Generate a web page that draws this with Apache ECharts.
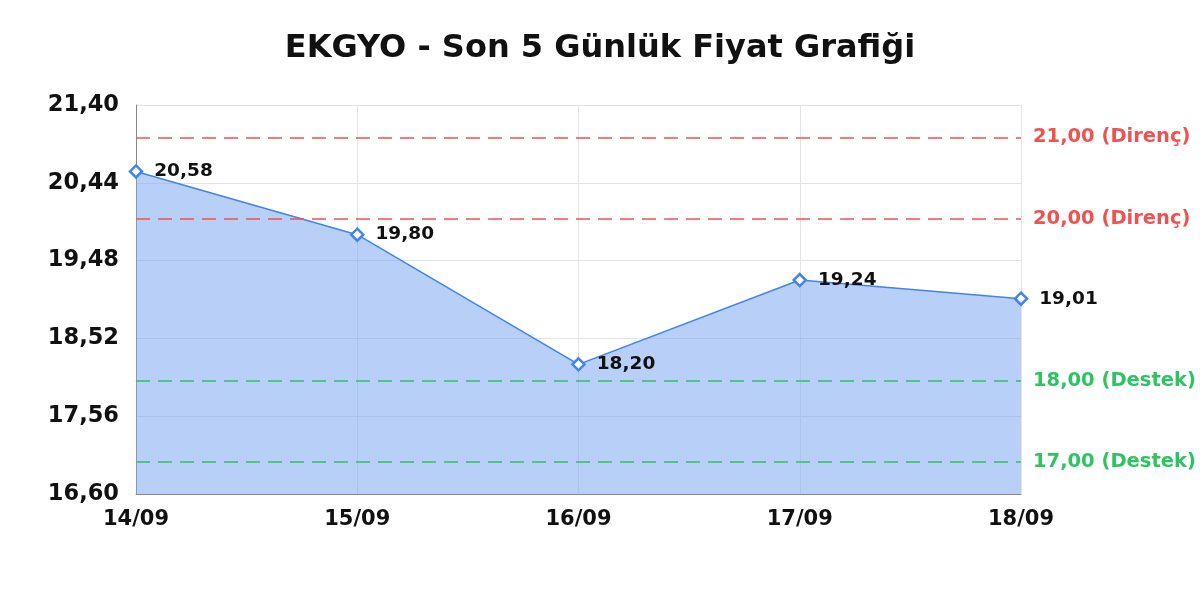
<!DOCTYPE html>
<html><head><meta charset="utf-8">
<script src="https://cdn.jsdelivr.net/npm/echarts@6/dist/echarts.min.js"></script>
<style>html,body{margin:0;padding:0;background:#fff}#c{width:1200px;height:600px}</style>
</head><body><div id="c"></div>
<script>
const categories = ['14/09','15/09','16/09','17/09','18/09'];
const prices = [20.58, 19.80, 18.20, 19.24, 19.01];
const resistance = [21.00, 20.00];
const support = [18.00, 17.00];
const yMin = 16.60, yMax = 21.40, yStep = 0.96;
const fmt = v => v.toFixed(2).replace('.', ',');
const FONT = '"DejaVu Sans", sans-serif';
const chart = echarts.init(document.getElementById('c'));
const lines = [];
resistance.forEach(v => lines.push({yAxis: v, lineStyle:{color:'#f05252', type:[14,8], width:1.5},
  label:{formatter: fmt(v)+' (Direnç)', color:'#f05252'}}));
support.forEach(v => lines.push({yAxis: v, lineStyle:{color:'#2ec462', type:[14,8], width:1.5},
  label:{formatter: fmt(v)+' (Destek)', color:'#2ec462'}}));
chart.setOption({
  animation:false,
  title:{text:'EKGYO - Son 5 Günlük Fiyat Grafiği', left:'center', top:28,
    textStyle:{fontFamily:FONT, fontWeight:'bold', fontSize:32, color:'#111'}},
  grid:{left:136, right:179, top:105, bottom:106},
  xAxis:{type:'category', data:categories, boundaryGap:false,
    axisLine:{lineStyle:{color:'#888'}}, axisTick:{show:false},
    axisLabel:{fontFamily:FONT, fontWeight:'bold', fontSize:21, color:'#111', margin:15},
    splitLine:{show:true, lineStyle:{color:'#e4e4e4'}}},
  yAxis:{type:'value', min:yMin, max:yMax, interval:yStep,
    axisLine:{show:true, lineStyle:{color:'#888'}}, axisTick:{show:false},
    axisLabel:{fontFamily:FONT, fontWeight:'bold', fontSize:22.5, color:'#111', margin:17, formatter:v=>fmt(v)},
    splitLine:{lineStyle:{color:'#e4e4e4'}}},
  series:[{type:'line', data:prices, symbol:'diamond', symbolSize:12,
    lineStyle:{color:'#3f84f2', width:1.5},
    itemStyle:{color:'#fff', borderColor:'#3f84f2', borderWidth:2.5},
    areaStyle:{color:'rgb(126,170,242)', opacity:0.55},
    label:{show:true, position:'right', distance:11, fontFamily:FONT, fontWeight:'bold', fontSize:18.5, color:'#111', formatter:p=>fmt(p.value)},
    markLine:{silent:true, symbol:'none',
      label:{position:'end', fontFamily:FONT, fontWeight:'bold', fontSize:19.5, distance:12},
      data:lines}
  }]
});
</script></body></html>
